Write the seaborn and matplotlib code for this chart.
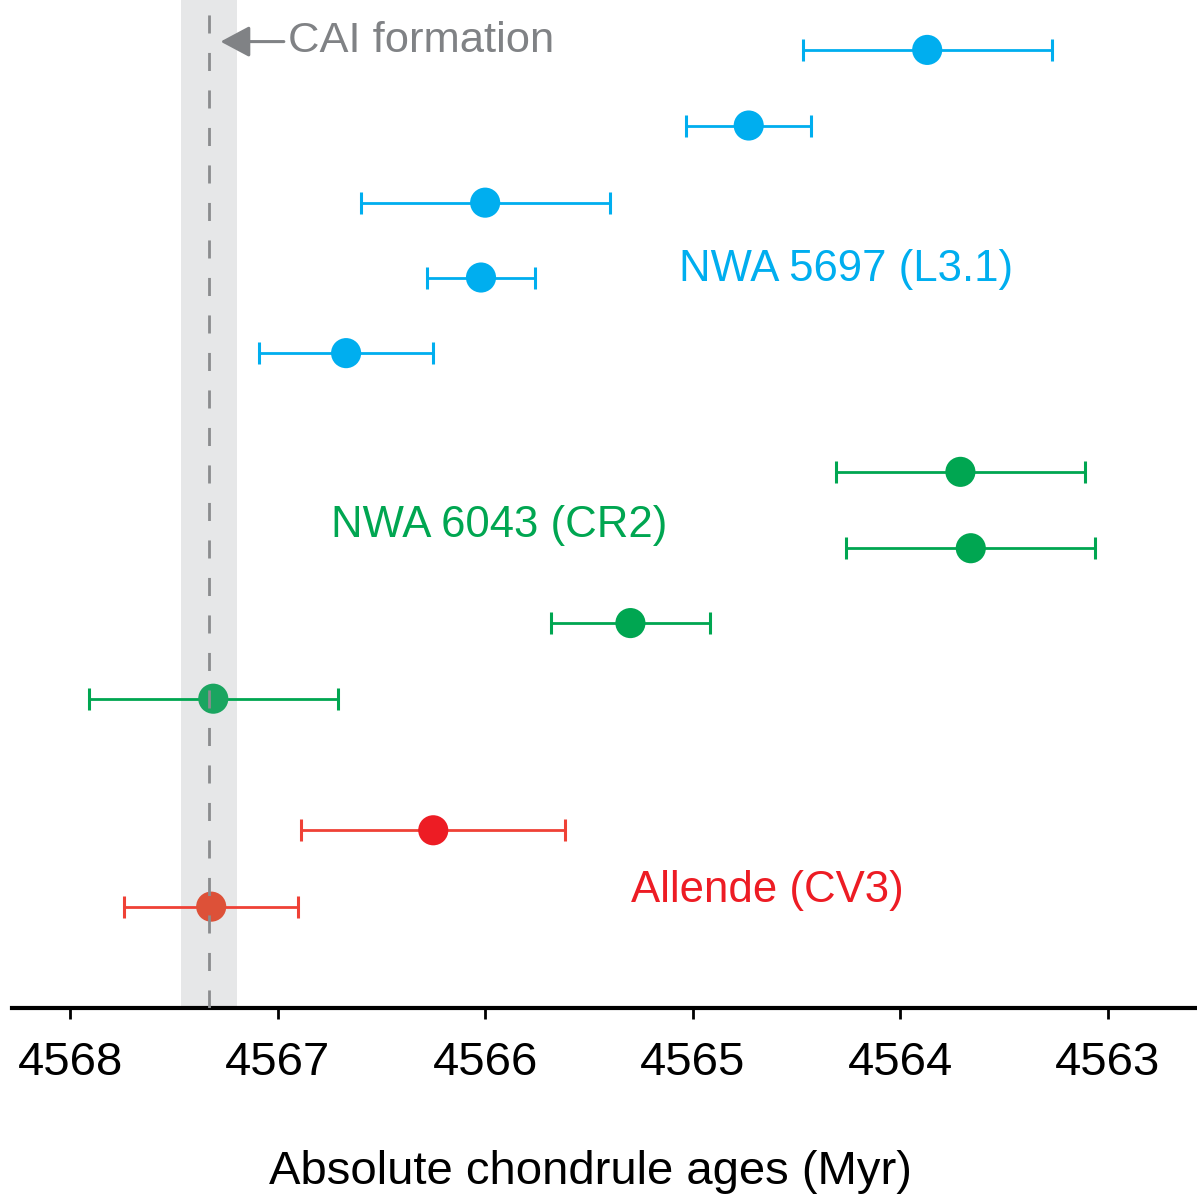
import matplotlib
matplotlib.use("Agg")
import matplotlib.pyplot as plt
import seaborn as sns
import pandas as pd

# ---- data ----
ages = [4563.87, 4564.73, 4566.00, 4566.02, 4566.67,
        4563.71, 4563.66, 4565.30, 4567.31,
        4566.25, 4567.32]
errors = [0.60, 0.30, 0.60, 0.26, 0.42,
          0.60, 0.60, 0.385, 0.60,
          0.635, 0.42]
rows = [12.67, 11.67, 10.65, 9.66, 8.66,
        7.09, 6.08, 5.09, 4.09,
        2.35, 1.34]
groups = ["NWA 5697 (L3.1)"] * 5 + ["NWA 6043 (CR2)"] * 4 + ["Allende (CV3)"] * 2
marker_colors = ["#00AEEF"] * 5 + ["#00A651"] * 3 + ["#1AA560"] + ["#ED1C24", "#DD5138"]
group_colors = {"NWA 5697 (L3.1)": "#00AEEF", "NWA 6043 (CR2)": "#00A651", "Allende (CV3)": "#EF4136"}
cai_age = 4567.33
cai_halfwidth = 0.135
xticks = [4568, 4567, 4566, 4565, 4564, 4563]

df = pd.DataFrame({"age": ages, "err": errors, "row": rows, "group": groups, "mc": marker_colors})

sns.set_style("ticks")
plt.rcParams["font.family"] = ["Liberation Sans", "DejaVu Sans"]
plt.rcParams["text.color"] = "black"
plt.rcParams["axes.labelcolor"] = "black"
plt.rcParams["xtick.color"] = "black"
plt.rcParams["xtick.labelcolor"] = "black"

fig = plt.figure(figsize=(11.97, 11.94), dpi=100)
ax = fig.add_axes([0.010, 0.1558, 0.990, 0.8442])

# CAI band
ax.axvspan(cai_age - cai_halfwidth, cai_age + cai_halfwidth, color="#E6E7E8", zorder=0, lw=0)

# error bars
for _, r in df.iterrows():
    ax.errorbar(r["age"], r["row"], xerr=r["err"], fmt="none",
                ecolor=group_colors[r["group"]], elinewidth=2.0, capsize=8.0,
                capthick=2.2, zorder=2)

# points
sns.scatterplot(data=df, x="age", y="row", hue="mc", palette={c: c for c in set(marker_colors)},
                s=470, edgecolor="none", legend=False, ax=ax, zorder=3)

# dashed CAI line
ax.axvline(cai_age, color="#8A8C8E", lw=2.0, ls=(0, (6.5, 7.0)), zorder=4)

# group labels
ax.text(4564.26, 9.77, "NWA 5697 (L3.1)", color="#00AEEF", fontsize=31.5, ha="center", va="center")
ax.text(4565.93, 6.38, "NWA 6043 (CR2)", color="#00A651", fontsize=31.5, ha="center", va="center")
ax.text(4564.64, 1.55, "Allende (CV3)", color="#ED1C24", fontsize=31.5, ha="center", va="center")

# CAI annotation
ax.annotate("", xy=(cai_age - 0.055, 12.78), xytext=(cai_age - 0.36, 12.78),
            arrowprops=dict(arrowstyle="-|>,head_length=0.9,head_width=0.48", color="#808285", lw=2.2,
                            mutation_scale=20, shrinkA=0, shrinkB=0))
ax.text(cai_age - 0.38, 12.79, "CAI formation", color="#808285", fontsize=31.3,
        ha="left", va="center")

ax.set_xlim(4568.28, 4562.57)
ax.set_ylim(0, 13.33)
ax.set_xticks(xticks)
ax.set_xticklabels([str(t) for t in xticks])
ax.set_yticks([])
ax.set_ylabel("")
ax.set_xlabel("Absolute chondrule ages (Myr)", fontsize=34)
ax.xaxis.set_label_coords(0.488, -0.141)
ax.tick_params(axis="x", labelsize=34, length=8, width=2, pad=16, color="black")
for s in ["left", "top", "right"]:
    ax.spines[s].set_visible(False)
ax.spines["bottom"].set_linewidth(3)
ax.spines["bottom"].set_color("black")
ax.set_facecolor("white")

fig.savefig("out.png", dpi=100, facecolor="white")
